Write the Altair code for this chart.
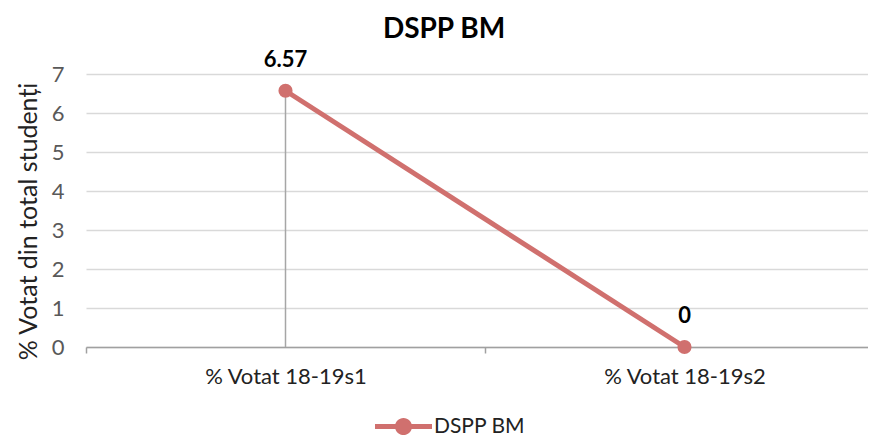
import altair as alt
import pandas as pd

categories = ["% Votat 18-19s1", "% Votat 18-19s2"]
values = [6.57, 0]
labels = ["6.57", "0"]
series = ["DSPP BM", "DSPP BM"]

df = pd.DataFrame({"cat": categories, "val": values, "lab": labels, "series": series})

COLOR = "#D0706E"
FONT = "Lato"

x = alt.X(
    "cat:N", sort=categories, title=None, bandPosition=0.5,
    scale=alt.Scale(type="band", paddingInner=0, paddingOuter=0, range=[0, 798]),
    axis=alt.Axis(labelAngle=0, tickBand="extent", domainColor="#A0A0A0", domainWidth=1.5,
                  tickColor="#A0A0A0", tickWidth=1.5, tickSize=6, labelFontSize=22,
                  labelColor="#222222", labelPadding=13, labelFont=FONT, grid=False),
)
y = alt.Y(
    "val:Q", title="% Votat din total studenți",
    scale=alt.Scale(domain=[0, 7], nice=False),
    axis=alt.Axis(values=[0, 1, 2, 3, 4, 5, 6, 7], grid=True, gridColor="#D9D9D9", gridWidth=1.5,
                  domain=False, ticks=False, labelColor="#595959", labelFontSize=22, labelFont=FONT,
                  labelPadding=22, titleFontSize=25, titleFont=FONT, titleColor="#222222",
                  titleFontWeight="normal", titlePadding=10, titleY=147),
)

legend_path = ("M-1,-0.09 L1,-0.09 L1,0.09 L-1,0.09 Z "
               "M0.3,0 A0.3,0.3 0 1,1 -0.3,0 A0.3,0.3 0 1,1 0.3,0 Z")
color = alt.Color(
    "series:N", title=None,
    scale=alt.Scale(range=[COLOR]),
    legend=alt.Legend(orient="none", legendX=289, legendY=324, direction="horizontal",
                      padding=0, symbolType=legend_path, symbolSize=3249, symbolStrokeWidth=0,
                      labelFontSize=21, labelColor="#222222", labelFont=FONT, labelOffset=2),
)

base = alt.Chart(df)

rule = base.mark_rule(color="#A6A6A6", strokeWidth=1.5).encode(x=x, y=y, y2=alt.datum(0))
line = base.mark_line(strokeWidth=5).encode(x=x, y=y, color=color)
pts = base.mark_point(filled=True, size=200, opacity=1).encode(x=x, y=y, color=color)
txt = base.mark_text(dy=-31, fontWeight="bold", fontSize=22, color="black", font=FONT).encode(
    x=x, y=y, text="lab:N")

chart = alt.layer(rule, line, pts, txt).properties(
    width=782, height=273,
    title=alt.TitleParams("DSPP BM", fontSize=28, fontWeight="bold", font=FONT, color="black",
                          anchor="middle", dx=-33, offset=5),
    autosize=alt.AutoSizeParams(type="none"),
    padding={"left": 78, "top": 66, "right": 0, "bottom": 88},
).configure_view(stroke=None)

chart.save("out.html", embed_options={"renderer": "svg", "actions": False})
